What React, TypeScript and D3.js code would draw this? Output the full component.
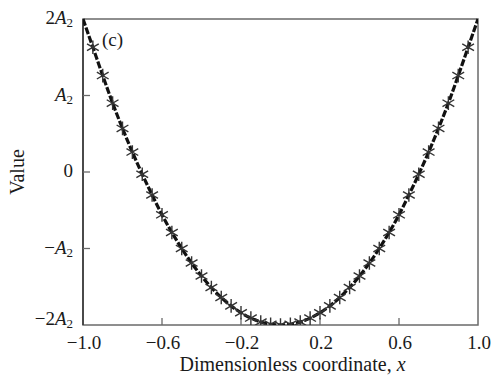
import React from "react";
import * as d3 from "d3";

const xValues = [-1, -0.95, -0.9, -0.85, -0.8, -0.75, -0.7, -0.65, -0.6, -0.55, -0.5, -0.45, -0.4, -0.35, -0.3, -0.25, -0.2, -0.15, -0.1, -0.05, 0, 0.05, 0.1, 0.15, 0.2, 0.25, 0.3, 0.35, 0.4, 0.45, 0.5, 0.55, 0.6, 0.65, 0.7, 0.75, 0.8, 0.85, 0.9, 0.95, 1];
const yValues = [2, 1.63, 1.26, 0.9, 0.57, 0.26, -0.03, -0.3, -0.56, -0.79, -1.0, -1.19, -1.36, -1.51, -1.64, -1.75, -1.84, -1.91, -1.96, -1.99, -2.0, -1.99, -1.96, -1.91, -1.84, -1.75, -1.64, -1.51, -1.36, -1.19, -1.0, -0.79, -0.56, -0.3, -0.03, 0.26, 0.57, 0.9, 1.26, 1.63, 2];
const xTickValues = [-1.0, -0.6, -0.2, 0.2, 0.6, 1.0];
const xTickLabels = ["\u22121.0", "\u22120.6", "\u22120.2", "0.2", "0.6", "1.0"];
const yTickValues = [2, 1, 0, -1, -2];
const yTickLabels = [["2", "A", "2"], ["", "A", "2"], ["0", "", ""], ["\u2212", "A", "2"], ["\u22122", "A", "2"]];

const W = 496, H = 381;
const M = { left: 83, right: 478, top: 19, bottom: 325 };
const FONT = "'Liberation Serif', 'DejaVu Serif', serif";

export default function App() {
  const x = d3.scaleLinear().domain([-1, 1]).range([M.left, M.right]);
  const y = d3.scaleLinear().domain([-2, 2]).range([M.bottom, M.top]);
  const pts: [number, number][] = xValues.map((v, i) => [v, yValues[i]]);
  const line = d3.line<[number, number]>().x(d => x(d[0])).y(d => y(d[1])).curve(d3.curveMonotoneX);
  const sym = d3.symbol().type(d3.symbolAsterisk).size(130);
  const markers = pts.filter(d => Math.abs(d[0]) < 0.99);
  const frame = "#6a6a6a";
  return (
    <svg width={W} height={H} style={{ position: "absolute", left: 0, top: 0, background: "#fff" }} fontFamily={FONT}>
      <defs>
        <clipPath id="plotclip">
          <rect x={M.left} y={M.top - 10} width={M.right - M.left} height={M.bottom - M.top + 10} />
        </clipPath>
      </defs>
      <rect x={M.left} y={M.top} width={M.right - M.left} height={M.bottom - M.top} fill="none" stroke={frame} strokeWidth={1.5} />
      <line x1={M.left} y1={M.top} x2={M.left} y2={M.bottom} stroke="#333" strokeWidth={1.5} />
      {xTickValues.map((v, i) => (
        <g key={"xt" + i}>
          {i > 0 && i < xTickValues.length - 1 && (
            <line x1={x(v)} x2={x(v)} y1={M.bottom} y2={M.bottom - 7} stroke={frame} strokeWidth={1.3} />
          )}
          <text x={x(v) + 1} y={349} fontSize={19} textAnchor="middle" fill="#1a1a1a">{xTickLabels[i]}</text>
        </g>
      ))}
      {yTickValues.map((v, i) => (
        <g key={"yt" + i}>
          {i > 0 && i < yTickValues.length - 1 && (
            <line x1={M.left} x2={M.left + 7} y1={y(v)} y2={y(v)} stroke={frame} strokeWidth={1.3} />
          )}
          <text x={73} y={y(v) + (i === yTickValues.length - 1 ? 0 : 5)} fontSize={19} textAnchor="end" fill="#1a1a1a">
            {yTickLabels[i][0]}
            {yTickLabels[i][1] && <tspan fontStyle="italic">{yTickLabels[i][1]}</tspan>}
            {yTickLabels[i][2] && <tspan fontSize={13} dy={3}>{yTickLabels[i][2]}</tspan>}
          </text>
        </g>
      ))}
      <g clipPath="url(#plotclip)">
        <path d={line(pts) || ""} fill="none" stroke="#111" strokeWidth={3.2} strokeDasharray="7,2" />
        {markers.map((d, i) => (
          <path key={"m" + i} d={sym() || ""} transform={`translate(${x(d[0])},${y(d[1])})`} fill="none" stroke="#333" strokeWidth={1.4} />
        ))}
      </g>
      <text x={102} y={46} fontSize={19} fill="#1a1a1a">(c)</text>
      <text x={(M.left + M.right) / 2 + 12} y={371} fontSize={20} textAnchor="middle" fill="#1a1a1a">
        Dimensionless coordinate, <tspan fontStyle="italic">x</tspan>
      </text>
      <text transform={`translate(24,${(M.top + M.bottom) / 2}) rotate(-90)`} fontSize={20} textAnchor="middle" fill="#1a1a1a">Value</text>
    </svg>
  );
}
